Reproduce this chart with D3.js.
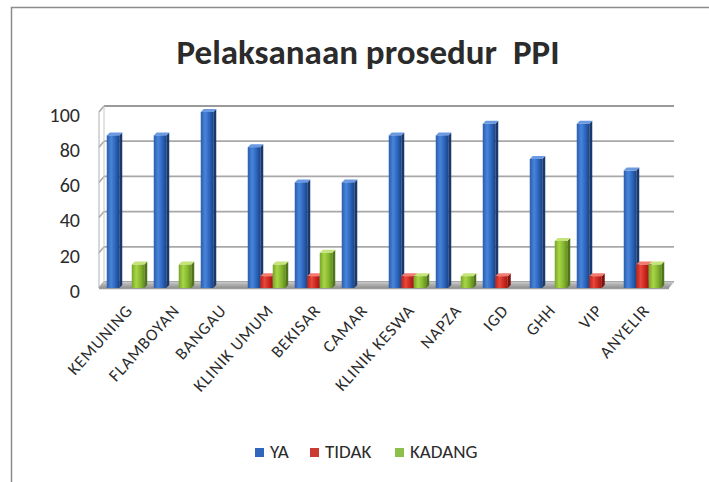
<!DOCTYPE html>
<html lang="id">
<head>
<meta charset="UTF-8">
<title>Pelaksanaan prosedur PPI</title>
<script src="https://d3js.org/d3.v7.min.js"></script>
<style>
  body { margin: 0; background: #fff; }
  text { font-family: Calibri, Carlito, "Open Sans", sans-serif; fill: #2b2b2b; }
</style>
</head>
<body>
<svg width="709" height="482"></svg>
<script>
const categories = ["KEMUNING", "FLAMBOYAN", "BANGAU", "KLINIK UMUM", "BEKISAR", "CAMAR",
                    "KLINIK KESWA", "NAPZA", "IGD", "GHH", "VIP", "ANYELIR"];
const series = ["YA", "TIDAK", "KADANG"];
const ya     = [86.7, 86.7, 100, 80, 60, 60, 86.7, 86.7, 93.3, 73.3, 93.3, 66.7];
const tidak  = [0, 0, 0, 6.7, 6.7, 0, 6.7, 0, 6.7, 0, 6.7, 13.3];
const kadang = [13.3, 13.3, 0, 13.3, 20, 0, 6.7, 6.7, 0, 26.7, 0, 13.3];
const yTicks = [0, 20, 40, 60, 80, 100];

const values = { YA: ya, TIDAK: tidak, KADANG: kadang };

// warna: muka depan (gradasi), sisi, atas
const palette = {
  YA:     { stops: ["#2a5cab", "#4885da", "#2c64bc", "#1b4484"], side: "#19396e", top: "#6a9ae2", key: "#2f67bd" },
  TIDAK:  { stops: ["#b8211a", "#e8473b", "#c9271f", "#9a1913"], side: "#7e130e", top: "#f27a6f", key: "#cc3a34" },
  KADANG: { stops: ["#76a428", "#a9d646", "#86b731", "#64901f"], side: "#4f7419", top: "#c6e47a", key: "#8cc04a" }
};

const svg = d3.select("svg");

// bingkai luar
svg.append("path")
  .attr("d", "M11.5,482 V7.5 H709")
  .attr("fill", "none")
  .attr("stroke", "#8c8c8c")
  .attr("stroke-width", 1.5);

// judul
svg.append("text")
  .attr("x", 368)
  .attr("y", 64)
  .attr("text-anchor", "middle")
  .style("font-size", "35px")
  .style("font-weight", "bold")
  .style("white-space", "pre")
  .attr("fill", "#111")
  .text("Pelaksanaan prosedur  PPI");

// skala
const y = d3.scaleLinear().domain([0, 100]).range([288, 112]);
const x0 = d3.scaleBand().domain(categories).range([102, 666]);
const x1 = d3.scaleBand().domain(series).range([4.75, 42.25]);

const depth = { dx: 5, dy: -6 };   // kedalaman dinding
const bar = { dx: 3, dy: -3 };     // kedalaman batang
const leftFront = 99, rightFront = 669;

// dinding belakang: garis bantu
const grid = svg.append("g");
yTicks.forEach(t => {
  // sisi kiri (miring)
  grid.append("line")
    .attr("x1", leftFront).attr("y1", y(t))
    .attr("x2", leftFront + depth.dx).attr("y2", y(t) + depth.dy)
    .attr("stroke", "#a8a8a8").attr("stroke-width", 1.5);
  grid.append("line")
    .attr("x1", leftFront + depth.dx).attr("y1", y(t) + depth.dy)
    .attr("x2", rightFront + depth.dx).attr("y2", y(t) + depth.dy)
    .attr("stroke", t === 100 ? "#9a9a9a" : "#a8a8a8")
    .attr("stroke-width", t === 100 ? 2 : 1.8);
});
// tepi dinding kiri
grid.append("line")
  .attr("x1", leftFront).attr("y1", y(0)).attr("x2", leftFront).attr("y2", y(100))
  .attr("stroke", "#b0b0b0").attr("stroke-width", 1);
grid.append("line")
  .attr("x1", leftFront + depth.dx).attr("y1", y(0) + depth.dy)
  .attr("x2", leftFront + depth.dx).attr("y2", y(100) + depth.dy)
  .attr("stroke", "#c8c8c8").attr("stroke-width", 1);

// lantai
const floorGrad = svg.append("defs").append("linearGradient")
  .attr("id", "floor").attr("x1", 0).attr("y1", 0).attr("x2", 0).attr("y2", 1);
floorGrad.append("stop").attr("offset", "0%").attr("stop-color", "#c9c9c9");
floorGrad.append("stop").attr("offset", "100%").attr("stop-color", "#8f8f8f");
svg.append("polygon")
  .attr("points", [
    [leftFront, y(0)], [rightFront, y(0)],
    [rightFront + depth.dx, y(0) + depth.dy], [leftFront + depth.dx, y(0) + depth.dy]
  ].map(p => p.join(",")).join(" "))
  .attr("fill", "url(#floor)");
svg.append("line")
  .attr("x1", leftFront).attr("y1", y(0) + 0.5).attr("x2", rightFront).attr("y2", y(0) + 0.5)
  .attr("stroke", "#9c9c9c").attr("stroke-width", 1.5);

// gradasi batang
const defs = svg.select("defs");
series.forEach(s => {
  const g = defs.append("linearGradient").attr("id", "grad-" + s)
    .attr("x1", 0).attr("y1", 0).attr("x2", 1).attr("y2", 0);
  [0, 35, 70, 100].forEach((o, i) =>
    g.append("stop").attr("offset", o + "%").attr("stop-color", palette[s].stops[i]));
});

// batang
const w = x1.bandwidth();
const bars = svg.append("g");
categories.forEach((c, ci) => {
  series.forEach(s => {
    const v = values[s][ci];
    if (v <= 0) return;
    const xl = x0(c) + x1(s);
    const xr = xl + w;
    const yt = y(v);
    const yb = y(0);
    const g = bars.append("g");
    // sisi kanan
    g.append("polygon")
      .attr("points", [[xr, yt], [xr + bar.dx, yt + bar.dy], [xr + bar.dx, yb + bar.dy], [xr, yb]]
        .map(p => p.join(",")).join(" "))
      .attr("fill", palette[s].side);
    // atas
    g.append("polygon")
      .attr("points", [[xl, yt], [xl + bar.dx, yt + bar.dy], [xr + bar.dx, yt + bar.dy], [xr, yt]]
        .map(p => p.join(",")).join(" "))
      .attr("fill", palette[s].top);
    // depan
    g.append("rect")
      .attr("x", xl).attr("y", yt)
      .attr("width", w).attr("height", yb - yt)
      .attr("fill", "url(#grad-" + s + ")");
  });
});

// label sumbu Y
svg.append("g").selectAll("text")
  .data(yTicks)
  .join("text")
  .attr("x", 80)
  .attr("y", d => y(d) + 5)
  .attr("text-anchor", "end")
  .attr("dominant-baseline", "middle")
  .style("font-size", "20px")
  .attr("fill", "#333")
  .text(d => d);

// label sumbu X
svg.append("g").selectAll("text")
  .data(categories)
  .join("text")
  .attr("text-anchor", "end")
  .attr("transform", d => `translate(${x0(d) + x0.bandwidth() / 2 + 8},${311}) rotate(-48)`)
  .style("font-size", "17px")
  .style("letter-spacing", "1px")
  .attr("fill", "#333")
  .text(d => d);

// legenda
const legendX = [255, 310, 395];
const legend = svg.append("g");
series.forEach((s, i) => {
  legend.append("rect")
    .attr("x", legendX[i]).attr("y", 448)
    .attr("width", 9).attr("height", 9)
    .attr("fill", palette[s].key);
  legend.append("text")
    .attr("x", legendX[i] + 15).attr("y", 453)
    .attr("dominant-baseline", "middle")
    .style("font-size", "19px")
    .attr("fill", "#333")
    .text(s);
});
</script>
</body>
</html>
